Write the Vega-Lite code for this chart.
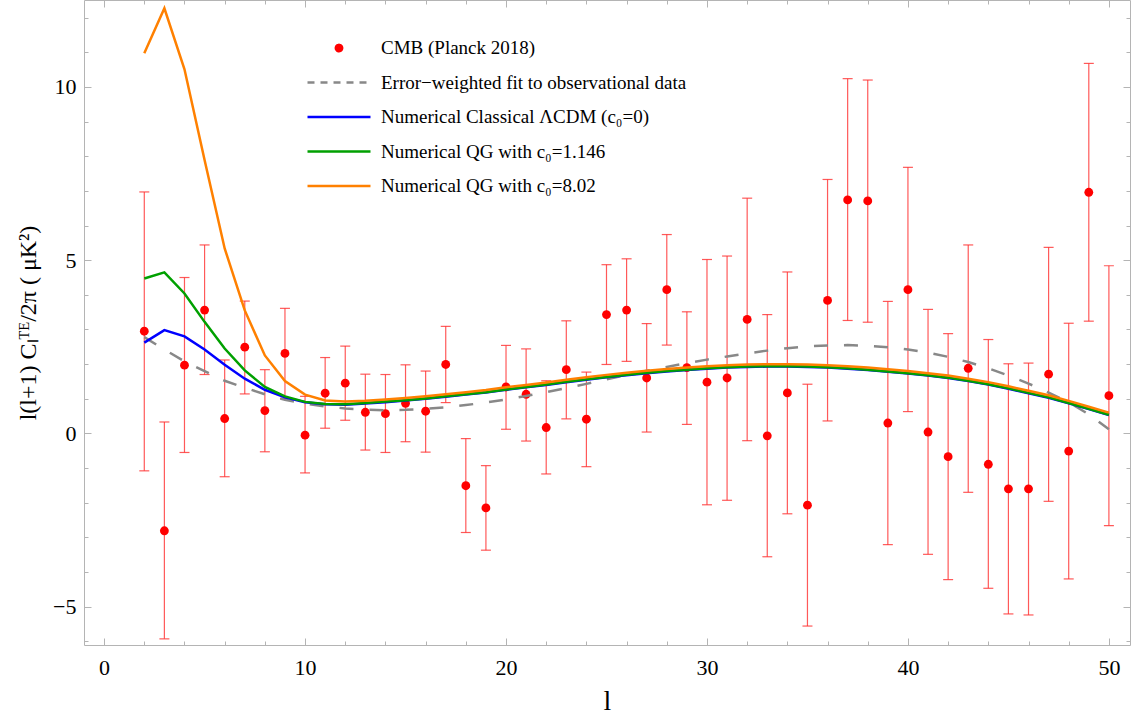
{
  "$schema": "https://vega.github.io/schema/vega-lite/v6.json",
  "width": 1046,
  "height": 645,
  "autosize": {"type": "none"},
  "padding": {"left": 84, "top": 0, "right": 2, "bottom": 74},
  "background": "white",
  "config": {
    "font": "Liberation Serif",
    "view": {"stroke": null},
    "axis": {"grid": false, "domainColor": "#b4b4b4", "tickColor": "#b4b4b4", "labelColor": "black", "titleColor": "black", "titleFontWeight": "normal", "labelFont": "Liberation Serif", "titleFont": "Liberation Serif", "labelFlush": false, "labelOverlap": false, "tickSize": 0}
  },
  "datasets": {
    "cmb": [
      {"l": 2, "v": 2.95, "lo": -1.08, "hi": 6.97},
      {"l": 3, "v": -2.81, "lo": -5.93, "hi": 0.33},
      {"l": 4, "v": 1.97, "lo": -0.55, "hi": 4.5},
      {"l": 5, "v": 3.56, "lo": 1.7, "hi": 5.44},
      {"l": 6, "v": 0.43, "lo": -1.25, "hi": 2.12},
      {"l": 7, "v": 2.49, "lo": 1.14, "hi": 3.82},
      {"l": 8, "v": 0.66, "lo": -0.53, "hi": 1.84},
      {"l": 9, "v": 2.31, "lo": 1.01, "hi": 3.61},
      {"l": 10, "v": -0.05, "lo": -1.14, "hi": 1.07},
      {"l": 11, "v": 1.16, "lo": 0.15, "hi": 2.19},
      {"l": 12, "v": 1.45, "lo": 0.38, "hi": 2.52},
      {"l": 13, "v": 0.61, "lo": -0.48, "hi": 1.71},
      {"l": 14, "v": 0.57, "lo": -0.55, "hi": 1.7},
      {"l": 15, "v": 0.87, "lo": -0.24, "hi": 1.98},
      {"l": 16, "v": 0.64, "lo": -0.54, "hi": 1.8},
      {"l": 17, "v": 1.99, "lo": 0.89, "hi": 3.09},
      {"l": 18, "v": -1.51, "lo": -2.86, "hi": -0.15},
      {"l": 19, "v": -2.15, "lo": -3.37, "hi": -0.93},
      {"l": 20, "v": 1.34, "lo": 0.12, "hi": 2.54},
      {"l": 21, "v": 1.13, "lo": -0.22, "hi": 2.44},
      {"l": 22, "v": 0.17, "lo": -1.17, "hi": 1.52},
      {"l": 23, "v": 1.84, "lo": 0.42, "hi": 3.25},
      {"l": 24, "v": 0.41, "lo": -0.96, "hi": 1.77},
      {"l": 25, "v": 3.43, "lo": 1.99, "hi": 4.87},
      {"l": 26, "v": 3.56, "lo": 2.08, "hi": 5.04},
      {"l": 27, "v": 1.6, "lo": 0.04, "hi": 3.17},
      {"l": 28, "v": 4.15, "lo": 2.55, "hi": 5.74},
      {"l": 29, "v": 1.9, "lo": 0.26, "hi": 3.51},
      {"l": 30, "v": 1.48, "lo": -2.06, "hi": 5.02},
      {"l": 31, "v": 1.6, "lo": -1.93, "hi": 5.12},
      {"l": 32, "v": 3.29, "lo": -0.21, "hi": 6.79},
      {"l": 33, "v": -0.07, "lo": -3.56, "hi": 3.43},
      {"l": 34, "v": 1.17, "lo": -2.32, "hi": 4.66},
      {"l": 35, "v": -2.07, "lo": -5.56, "hi": 1.42},
      {"l": 36, "v": 3.84, "lo": 0.36, "hi": 7.33},
      {"l": 37, "v": 6.74, "lo": 3.26, "hi": 10.24},
      {"l": 38, "v": 6.71, "lo": 3.21, "hi": 10.2},
      {"l": 39, "v": 0.3, "lo": -3.21, "hi": 3.81},
      {"l": 40, "v": 4.15, "lo": 0.63, "hi": 7.68},
      {"l": 41, "v": 0.04, "lo": -3.49, "hi": 3.58},
      {"l": 42, "v": -0.67, "lo": -4.22, "hi": 2.88},
      {"l": 43, "v": 1.88, "lo": -1.7, "hi": 5.44},
      {"l": 44, "v": -0.89, "lo": -4.47, "hi": 2.71},
      {"l": 45, "v": -1.6, "lo": -5.21, "hi": 2.01},
      {"l": 46, "v": -1.6, "lo": -5.24, "hi": 2.03},
      {"l": 47, "v": 1.71, "lo": -1.96, "hi": 5.37},
      {"l": 48, "v": -0.51, "lo": -4.2, "hi": 3.18},
      {"l": 49, "v": 6.96, "lo": 3.24, "hi": 10.68},
      {"l": 50, "v": 1.09, "lo": -2.66, "hi": 4.84}
    ],
    "curves": [
      {"l": 2, "fit": 2.78, "lcdm": 2.62, "qg1": 4.47, "qg8": 10.97},
      {"l": 3, "fit": 2.42, "lcdm": 2.98, "qg1": 4.65, "qg8": 12.27},
      {"l": 4, "fit": 2.08, "lcdm": 2.8, "qg1": 4.04, "qg8": 10.51},
      {"l": 5, "fit": 1.8, "lcdm": 2.42, "qg1": 3.22, "qg8": 7.89},
      {"l": 6, "fit": 1.52, "lcdm": 1.98, "qg1": 2.45, "qg8": 5.34},
      {"l": 7, "fit": 1.32, "lcdm": 1.58, "qg1": 1.82, "qg8": 3.55},
      {"l": 8, "fit": 1.13, "lcdm": 1.26, "qg1": 1.34, "qg8": 2.25},
      {"l": 9, "fit": 0.97, "lcdm": 1.04, "qg1": 1.07, "qg8": 1.51},
      {"l": 10, "fit": 0.86, "lcdm": 0.9, "qg1": 0.91, "qg8": 1.12},
      {"l": 11, "fit": 0.78, "lcdm": 0.84, "qg1": 0.85, "qg8": 0.95},
      {"l": 12, "fit": 0.72, "lcdm": 0.83, "qg1": 0.84, "qg8": 0.92},
      {"l": 13, "fit": 0.69, "lcdm": 0.86, "qg1": 0.88, "qg8": 0.94},
      {"l": 14, "fit": 0.67, "lcdm": 0.9, "qg1": 0.92, "qg8": 0.98},
      {"l": 15, "fit": 0.68, "lcdm": 0.95, "qg1": 0.96, "qg8": 1.02},
      {"l": 16, "fit": 0.71, "lcdm": 1.0, "qg1": 1.01, "qg8": 1.07},
      {"l": 17, "fit": 0.75, "lcdm": 1.06, "qg1": 1.07, "qg8": 1.13},
      {"l": 18, "fit": 0.82, "lcdm": 1.12, "qg1": 1.13, "qg8": 1.19},
      {"l": 19, "fit": 0.89, "lcdm": 1.18, "qg1": 1.19, "qg8": 1.25},
      {"l": 20, "fit": 0.98, "lcdm": 1.26, "qg1": 1.27, "qg8": 1.33},
      {"l": 21, "fit": 1.08, "lcdm": 1.33, "qg1": 1.34, "qg8": 1.4},
      {"l": 22, "fit": 1.19, "lcdm": 1.4, "qg1": 1.41, "qg8": 1.47},
      {"l": 23, "fit": 1.31, "lcdm": 1.48, "qg1": 1.49, "qg8": 1.55},
      {"l": 24, "fit": 1.43, "lcdm": 1.55, "qg1": 1.56, "qg8": 1.62},
      {"l": 25, "fit": 1.56, "lcdm": 1.62, "qg1": 1.63, "qg8": 1.69},
      {"l": 26, "fit": 1.69, "lcdm": 1.68, "qg1": 1.69, "qg8": 1.75},
      {"l": 27, "fit": 1.81, "lcdm": 1.74, "qg1": 1.75, "qg8": 1.81},
      {"l": 28, "fit": 1.92, "lcdm": 1.79, "qg1": 1.8, "qg8": 1.86},
      {"l": 29, "fit": 2.03, "lcdm": 1.83, "qg1": 1.84, "qg8": 1.9},
      {"l": 30, "fit": 2.13, "lcdm": 1.87, "qg1": 1.88, "qg8": 1.94},
      {"l": 31, "fit": 2.22, "lcdm": 1.9, "qg1": 1.91, "qg8": 1.97},
      {"l": 32, "fit": 2.31, "lcdm": 1.92, "qg1": 1.93, "qg8": 1.99},
      {"l": 33, "fit": 2.39, "lcdm": 1.93, "qg1": 1.94, "qg8": 2.0},
      {"l": 34, "fit": 2.46, "lcdm": 1.93, "qg1": 1.94, "qg8": 2.0},
      {"l": 35, "fit": 2.51, "lcdm": 1.92, "qg1": 1.93, "qg8": 1.99},
      {"l": 36, "fit": 2.54, "lcdm": 1.9, "qg1": 1.91, "qg8": 1.97},
      {"l": 37, "fit": 2.55, "lcdm": 1.87, "qg1": 1.88, "qg8": 1.94},
      {"l": 38, "fit": 2.53, "lcdm": 1.83, "qg1": 1.84, "qg8": 1.9},
      {"l": 39, "fit": 2.49, "lcdm": 1.78, "qg1": 1.79, "qg8": 1.85},
      {"l": 40, "fit": 2.42, "lcdm": 1.73, "qg1": 1.74, "qg8": 1.8},
      {"l": 41, "fit": 2.33, "lcdm": 1.67, "qg1": 1.68, "qg8": 1.74},
      {"l": 42, "fit": 2.21, "lcdm": 1.6, "qg1": 1.61, "qg8": 1.67},
      {"l": 43, "fit": 2.06, "lcdm": 1.51, "qg1": 1.52, "qg8": 1.58},
      {"l": 44, "fit": 1.88, "lcdm": 1.41, "qg1": 1.42, "qg8": 1.48},
      {"l": 45, "fit": 1.67, "lcdm": 1.29, "qg1": 1.3, "qg8": 1.36},
      {"l": 46, "fit": 1.44, "lcdm": 1.16, "qg1": 1.17, "qg8": 1.23},
      {"l": 47, "fit": 1.18, "lcdm": 1.03, "qg1": 1.04, "qg8": 1.1},
      {"l": 48, "fit": 0.9, "lcdm": 0.87, "qg1": 0.88, "qg8": 0.94},
      {"l": 49, "fit": 0.55, "lcdm": 0.7, "qg1": 0.71, "qg8": 0.77},
      {"l": 50, "fit": 0.12, "lcdm": 0.53, "qg1": 0.54, "qg8": 0.6}
    ]
  },
  "layer": [
    {
      "layer": [
        {
          "mark": {"type": "rule", "color": "#555555", "strokeWidth": 1},
          "encoding": {
            "y": {"datum": 0, "type": "quantitative", "scale": {"domain": [-6.107, 12.51], "nice": false, "zero": false},
              "axis": {"orient": "left", "values": [-5, 0, 5, 10], "labelOverlap": false, "labelFontSize": 22, "labelPadding": 8, "title": "l(l+1) Cₗᵀᴱ/2π ( μK²)", "titleFontSize": 24, "titlePadding": 12,
                "encoding": {"ticks": {"x2": {"value": 7}}}}}
          }
        },
        {
          "data": {"name": "cmb"},
          "mark": {"type": "rule", "color": "#ff3030", "strokeWidth": 1.2, "opacity": 0.8},
          "encoding": {
            "x": {"field": "l", "type": "quantitative", "scale": {"domain": [-1.0, 51.05], "nice": false, "zero": false},
              "axis": {"orient": "bottom", "values": [0, 2, 4, 6, 8, 10, 12, 14, 16, 18, 20, 22, 24, 26, 28, 30, 32, 34, 36, 38, 40, 42, 44, 46, 48, 50], "labelExpr": "datum.value % 10 === 0 ? datum.label : ''", "labelOverlap": false, "labelFontSize": 22, "labelPadding": 12, "title": "l", "titleFontSize": 28, "titlePadding": 9,
                "encoding": {"ticks": {"y2": {"value": {"expr": "datum.value % 10 === 0 ? -7 : -4"}}}}}},
            "y": {"field": "lo", "type": "quantitative"},
            "y2": {"field": "hi"}
          }
        },
        {
          "data": {"name": "cmb"},
          "mark": {"type": "tick", "color": "#ff3030", "orient": "horizontal", "size": 10, "thickness": 1.2, "opacity": 0.8},
          "encoding": {"x": {"field": "l", "type": "quantitative"}, "y": {"field": "lo", "type": "quantitative"}}
        },
        {
          "data": {"name": "cmb"},
          "mark": {"type": "tick", "color": "#ff3030", "orient": "horizontal", "size": 10, "thickness": 1.2, "opacity": 0.8},
          "encoding": {"x": {"field": "l", "type": "quantitative"}, "y": {"field": "hi", "type": "quantitative"}}
        },
        {
          "data": {"name": "cmb"},
          "mark": {"type": "circle", "size": 78, "opacity": 1},
          "encoding": {
            "x": {"field": "l", "type": "quantitative"},
            "y": {"field": "v", "type": "quantitative"},
            "color": {"datum": "CMB (Planck 2018)", "type": "nominal",
              "scale": {"domain": ["CMB (Planck 2018)", "Error−weighted fit to observational data", "Numerical Classical ΛCDM (c₀=0)", "Numerical QG with c₀=1.146", "Numerical QG with c₀=8.02"], "range": ["#ff0000", "#888888", "#0000ff", "#00a000", "#ff8000"]},
              "legend": {"orient": "none", "legendX": 222, "legendY": 38, "title": null, "padding": 0, "symbolSize": 3969, "clipHeight": 20, "rowPadding": 14.5, "labelOffset": 9, "labelFont": "Liberation Serif", "labelFontSize": 19, "labelColor": "black", "labelLimit": 0, "symbolStrokeWidth": 2.5,
                "encoding": {"symbols": {
                  "shape": {"value": {"expr": "datum.value === 'CMB (Planck 2018)' ? 'circle' : 'stroke'"}},
                  "size": {"value": {"expr": "datum.value === 'CMB (Planck 2018)' ? 40 : 3969"}},
                  "fill": {"value": {"expr": "datum.value === 'CMB (Planck 2018)' ? '#ff0000' : 'transparent'"}},
                  "stroke": {"value": {"expr": "datum.value === 'CMB (Planck 2018)' ? 'transparent' : scale('color', datum.value)"}},
                  "strokeDash": {"value": {"expr": "datum.value === 'Error−weighted fit to observational data' ? [7, 6] : [1, 0]"}},
                  "strokeWidth": {"value": 2.5},
                  "opacity": {"value": 1}
                }}}}
          }
        },
        {
          "data": {"name": "curves"},
          "mark": {"type": "line", "strokeWidth": 2.5, "strokeDash": [14, 16]},
          "encoding": {"x": {"field": "l", "type": "quantitative"}, "y": {"field": "fit", "type": "quantitative"}, "color": {"datum": "Error−weighted fit to observational data", "type": "nominal"}}
        },
        {
          "data": {"name": "curves"},
          "mark": {"type": "line", "strokeWidth": 2.5},
          "encoding": {"x": {"field": "l", "type": "quantitative"}, "y": {"field": "lcdm", "type": "quantitative"}, "color": {"datum": "Numerical Classical ΛCDM (c₀=0)", "type": "nominal"}}
        },
        {
          "data": {"name": "curves"},
          "mark": {"type": "line", "strokeWidth": 2.5},
          "encoding": {"x": {"field": "l", "type": "quantitative"}, "y": {"field": "qg1", "type": "quantitative"}, "color": {"datum": "Numerical QG with c₀=1.146", "type": "nominal"}}
        },
        {
          "data": {"name": "curves"},
          "mark": {"type": "line", "strokeWidth": 2.5},
          "encoding": {"x": {"field": "l", "type": "quantitative"}, "y": {"field": "qg8", "type": "quantitative"}, "color": {"datum": "Numerical QG with c₀=8.02", "type": "nominal"}}
        }
      ]
    },
    {
      "data": {"name": "curves"},
      "mark": {"type": "point", "opacity": 0},
      "encoding": {
        "x": {"field": "l", "type": "quantitative",
          "axis": {"orient": "top", "values": [0, 2, 4, 6, 8, 10, 12, 14, 16, 18, 20, 22, 24, 26, 28, 30, 32, 34, 36, 38, 40, 42, 44, 46, 48, 50], "labels": false, "title": null,
            "encoding": {"ticks": {"y2": {"value": {"expr": "datum.value % 10 === 0 ? 7 : 4"}}}}}},
        "y": {"field": "fit", "type": "quantitative",
          "axis": {"orient": "right", "values": [-6, -5, -4, -3, -2, -1, 0, 1, 2, 3, 4, 5, 6, 7, 8, 9, 10, 11, 12], "labels": false, "title": null,
            "encoding": {"ticks": {"x2": {"value": {"expr": "datum.value % 5 === 0 ? -7 : -4"}}}}}}
      }
    },
    {
      "data": {"name": "curves"},
      "mark": {"type": "point", "opacity": 0},
      "encoding": {
        "x": {"field": "l", "type": "quantitative", "axis": null},
        "y": {"field": "fit", "type": "quantitative",
          "axis": {"orient": "left", "values": [-6, -4, -3, -2, -1, 1, 2, 3, 4, 6, 7, 8, 9, 11, 12], "labels": false, "title": null, "domain": false,
            "encoding": {"ticks": {"x2": {"value": 4}}}}}
      }
    }
  ],
  "resolve": {"axis": {"x": "independent", "y": "independent"}}
}
